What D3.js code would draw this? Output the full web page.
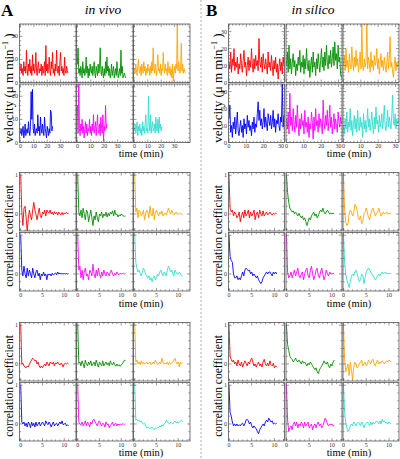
<!DOCTYPE html>
<html><head><meta charset="utf-8">
<script src="https://cdn.jsdelivr.net/npm/d3@7"></script>
<style>body{margin:0;background:#fff}svg{display:block}</style>
</head><body><svg id="c" width="400" height="459"></svg>
<script>
// ---------- DATA ----------
const seriesColors = ["#ff0000", "#009000", "#ffa500", "#0000ff", "#ff00ff", "#30dcd0"];
const sideTitles = {A: "in vivo", B: "in silico"};

// velocity (µm/min), in vivo, one sample every 0.5 min
const velA_red = [5,8,4,6,3,9,5,7,4,14, 6,3,8,5,10,4,7,3,12,5, 8,4,6,13,5,3,7,9,4,6, 5,8,3,7,4,6,9,3,16,5, 8,4,7,11,5,3,9,6,13,4, 6,3,8,5,14,6,4,7,3,9, 13,5,7,4,6,3,11,5,4,7, 5,4];
const velA_green = [8,15,4,6,3,7,5,2,9,4, 6,3,5,11,4,7,2,6,3,8, 5,4,7,3,6,9,4,2,7,5, 3,8,4,6,15,5,3,7,4,2, 6,3,9,4,11,5,7,3,6,2, 4,8,3,5,7,2,4,6,3,9, 5,2,4,6,3,14,4,7,2,3, 4,3,2];
const velA_orange = [6,4,8,5,3,7,10,5,4,7, 3,8,6,4,9,5,7,3,6,4, 8,5,6,3,7,4,9,5,15,6, 4,8,5,3,7,12,5,6,4,8, 3,6,5,13,7,4,8,5,6,3, 9,5,4,7,3,6,2,8,0.5,5, 7,4,8,6,27,5,9,6,4,7, 17,5,8,4,6,5,4];
const velA_blue = [4,6,3,5,7,2,4,8,3,5, 6,4,9,5,3,7,22,10,23,6, 4,8,3,5,6,4,12,5,7,3, 11,6,4,8,5,3,11,6,4,2, 7,5,3,6,4,14,13,5,7];
const velA_magenta = [16,4,28,6,3,8,5,10,4,7, 2,6,9,4,8,3,6,5,10,4, 7,3,8,5,12,4,6,9,3,7, 12,5,4,8,3,11,6,4,12,0.5, 7,5,16,6,8];
const velA_cyan = [5,8,4,6,9,3,7,5,8,4, 6,3,9,5,7,4,8,12,5,6, 4,20,8,5,12,4,7,9,5,6, 8,4,11,6,5,10,4,11,6,8, 5,7];

// velocity, in silico, one sample every 0.48 min
const velB_red = [12,8,18,6,14,10,20,7,12,9, 15,5,11,8,17,10,6,13,19,9, 12,4,10,15,7,13,9,20,11,6, 14,8,16,10,13,7,26,12,9,15, 6,17,11,8,14,10,5,18,9,12, 7,16,10,4,13,8,15,6,11,2, 9,14,7,12,5,15,10];
const velB_green = [10,18,6,22,8,14,5,12,17,9, 13,4,11,7,15,10,19,6,12,9, 16,5,14,8,20,11,7,13,3,10, 15,6,18,9,12,4,14,8,17,11, 6,13,20,9,15,7,18,10,22,12, 8,16,11,19,9,14,21,10,24,13, 17,8,22,12,15,5,3];
const velB_orange = [10,16,7,20,9,13,6,17,11,8, 21,12,7,15,9,19,10,14,6,12, 18,8,36,10,7,14,9,12,36,8, 15,11,6,18,9,13,7,16,10,12, 20,8,14,5,11,17,9,13,7,15, 10,6,12,18,8,14,27,9,12,6, 3,10,15,7,12,9,13];
const velB_blue = [14,22,6,10,3,12,8,15,5,11, 18,7,4,9,13,6,10,3,14,8, 11,5,16,9,13,7,10,4,12,8, 15,6,11,9,17,24,13,19,10,14, 8,12,20,9,15,11,7,17,13,10, 16,8,12,19,9,14,6,13,11,17, 10,7,15,12,35,9,16];
const velB_magenta = [14,8,18,5,29,10,15,7,20,12, 6,16,9,22,11,4,14,8,17,10, 13,5,19,9,12,6,15,3,11,8, 18,12,2,15,7,20,10,13,6,17, 9,14,11,5,25,12,8,16,10,19, 7,13,22,9,15,5,11,17,8,14, 10,6,18,12,9,15,11];
const velB_cyan = [10,5,14,8,18,6,12,9,20,7, 13,4,11,16,8,14,6,19,10,7, 15,9,12,3,17,8,13,6,11,20, 9,14,7,12,18,10,5,15,8,21, 11,13,6,16,9,12,17,8,14,22, 10,7,13,19,9,15,11,8,16,28, 12,10,17,8,14,11,13];

// correlation coefficient, first block, lag step 0.25 min
const corr1A_red = [1,0.05,-0.3,0.15,0.2,-0.1,-0.45,-0.1,0.1,-0.05,-0.15,0.1,0.3,0.1,0,-0.15,0,0.15,-0.05,-0.1,0.05,0,0.1,-0.05,0.1,0.05,0.02,0.1,0,0.05,-0.02,0.06,0,0.04,-0.03,0.05,0,-0.02,0.04,-0.02,0.03,0,0.04,0.01,0.02];
const corr1A_green = [1,0.05,-0.05,0.1,-0.1,0.15,0,-0.15,0.1,0.05,-0.2,-0.05,0.1,-0.1,-0.3,-0.05,-0.15,0.05,-0.1,-0.2,0,-0.05,0.05,-0.1,0,-0.05,0.05,-0.08,0.02,-0.05,0.05,0,0.08,-0.05,0.1,-0.02,0,-0.08,-0.02,-0.05,0,-0.03,-0.05,-0.06,-0.05];
const corr1A_orange = [1,0.05,0.15,-0.1,0.1,0.05,-0.05,0,0.1,-0.15,0,0.1,0.05,-0.1,0.2,0,-0.05,0.15,-0.15,0.05,0.1,0,-0.05,0.05,0,0.08,-0.05,0,0.02,-0.03,0.05,0.15,0.05,0,0.1,0.02,-0.02,0,0.05,0,0,0.02,0,0,0];
const corr1A_blue = [1,0.1,-0.05,0.2,0,-0.1,0.15,-0.05,0.1,0,-0.1,0.15,0,-0.1,0.05,0.1,-0.05,0.02,-0.15,0,-0.05,0.05,-0.05,0,-0.15,0,-0.03,0,-0.05,0.02,-0.03,0,0.03,-0.02,0.05,0,0.02,0,0.01,0,0.01,0,0.01,0,0.01];
const corr1A_magenta = [1,0.1,0.2,-0.1,0.1,-0.15,0.05,0.15,-0.05,0,-0.15,0.1,0.05,-0.05,0.25,0,-0.1,0.1,-0.05,0.15,0,-0.1,0.05,-0.05,0.1,0,-0.05,0.05,0,-0.05,0.05,0.1,0,-0.05,0.02,-0.03,0.05,0,-0.02,0.02,0,0.01,0.02,0,0.01];
const corr1A_cyan = [1,0.3,0.15,0.05,0.1,0,-0.05,0.05,0.15,0.1,0,-0.05,-0.1,-0.05,-0.15,-0.1,-0.2,-0.1,-0.05,-0.15,-0.1,0,-0.05,0.05,0.1,0,-0.05,0.05,0,-0.05,0.1,0.2,0.15,0.05,0.1,0,-0.05,0.1,0.05,0,0,0.05,0,-0.05,-0.05];

const corr1B_red = [1,0.15,0.05,0.1,-0.05,0.05,0,-0.1,-0.05,0.05,-0.2,-0.05,0.05,-0.1,0.1,-0.05,0,0.1,-0.1,0.05,-0.05,0,0.1,-0.15,0,0.05,-0.1,0.1,0,-0.05,0.08,-0.05,0,0.05,-0.02,0,0.05,0,-0.03,0.02,0,0.02,0];
const corr1B_green = [1,0.55,0.3,0.15,0.1,0.05,0.08,0,0.05,0,-0.05,0.02,-0.05,-0.1,-0.05,-0.15,-0.1,-0.2,-0.3,-0.2,-0.1,-0.15,-0.05,0,0.05,-0.05,0,-0.1,-0.05,0.05,0.1,0.05,0.15,0.05,0,0.05,0.1,0.05,0,0.02,0,0.02,0];
const corr1B_orange = [1,0.1,-0.2,-0.3,-0.25,0,0.1,0.05,-0.05,0,0.25,0.2,0.1,-0.1,-0.15,-0.05,-0.25,-0.2,0,0.05,0.15,0.05,-0.1,-0.15,0,0.1,0.15,0.05,-0.05,0,0.05,0.15,0.05,-0.05,0,0.05,0,0.02,0.05,0,0,0.02,0];
const corr1B_blue = [1,0.45,0.35,0.3,0,-0.1,-0.1,-0.05,-0.15,-0.1,-0.15,-0.05,0.05,-0.05,0.1,0.15,0.12,0.08,0.1,0,0.05,-0.05,0,-0.05,-0.1,-0.05,-0.15,-0.2,-0.25,-0.2,-0.1,-0.05,0,0.05,0,0.05,0.05,0,-0.05,0.05,0,0.05,0];
const corr1B_magenta = [1,0.05,-0.1,-0.05,0.05,-0.1,0,0.1,-0.05,0.05,0.15,-0.05,-0.1,0,0.05,-0.15,0,0.1,0.15,-0.05,-0.1,0.1,0.2,0,-0.15,-0.05,0.1,0.15,-0.05,-0.1,0.05,0.15,0,-0.15,-0.05,0.1,0,-0.05,0.05,0,0,0.02,0];
const corr1B_cyan = [1,0.3,0,-0.15,-0.25,-0.35,-0.2,-0.05,0,-0.05,0.05,0.1,0,-0.1,-0.2,-0.15,0,-0.05,-0.25,-0.1,0.05,0.1,0.15,0.1,0.05,0,-0.05,-0.1,-0.15,-0.1,-0.05,0,-0.05,0,0.05,0,0.02,0.05,0,0.02,0,0.02,0];

// correlation coefficient, second block
const corr2A_red = [1,0,0.02,-0.05,-0.08,-0.1,-0.05,-0.08,0,0.05,0.1,0.15,0.12,0.08,0.1,0,0.05,-0.05,-0.1,-0.05,-0.1,-0.05,0,-0.05,0.05,0,-0.05,0.05,0.02,0,0.05,-0.05,0.03,0,0.05,0,-0.03,0.02,0,-0.08,0,0.02,0,0.02,0];
const corr2A_green = [1,0.02,0.05,-0.05,0.08,0,-0.1,0.1,0,-0.05,0.05,-0.02,0.08,-0.05,0,0.05,-0.05,0.1,0,-0.08,0.05,0,-0.05,0.08,-0.05,0,0.05,-0.02,0.03,-0.05,0.08,0,-0.03,0.05,-0.02,-0.06,0,-0.05,-0.02,-0.06,-0.02,0,0.05,0.1,0.08];
const corr2A_orange = [1,0.05,0.1,0,0.05,-0.02,0.08,0,0.05,0,0.02,0.05,0,0.02,0.05,-0.02,0,0.05,0,0.1,0.05,-0.02,0,0.05,0,0.15,0.05,0,0.02,0,0.05,-0.02,0.05,0,0.02,0.05,0.1,0.15,0.05,0,0.05,-0.08,0.05,0,0.02];
const corr2A_blue = [1,0.05,0,0.05,-0.05,0.02,-0.08,0.05,0,-0.1,0.05,-0.05,0.02,-0.08,0.05,-0.05,0,0.05,-0.05,0,0.05,0,-0.05,0.08,0.02,-0.02,0.05,0,-0.08,0,0.05,-0.05,0,0.02,-0.05,0,0.05,0,0.08,-0.02,0,0.02,-0.05,-0.02,-0.05];
const corr2A_magenta = [1,0.05,0,-0.02,0.05,-0.05,0,0.08,-0.05,0.05,0,-0.08,0.05,0,0.1,0.12,0.05,0,-0.05,0.05,0.08,0,-0.05,0.02,0,-0.08,0.05,-0.02,0,-0.1,-0.05,0,0.05,-0.05,0,0.02,-0.05,0,-0.03,0,-0.02,0,0,-0.02,0];
const corr2A_cyan = [1,0.1,0.12,0.08,0.1,0.05,0.08,0.02,0,0.02,-0.05,-0.1,-0.08,-0.1,-0.12,-0.1,-0.08,-0.12,-0.15,-0.1,-0.12,-0.08,-0.1,-0.05,-0.08,-0.02,-0.05,0,0.02,0.1,0.05,0.02,0,0.05,0.02,0,0.05,0.08,0.03,0.05,0.02,0.05,0.08,0.1,0.05];

const corr2B_red = [1,0.2,0.12,0.05,0.1,0,0.05,-0.05,0.1,0,-0.05,0.05,-0.08,0,0.08,0.02,-0.05,0.05,0,0.1,0.15,0.05,-0.05,0,-0.08,0,0.05,-0.05,0,-0.08,0.05,0.12,0,-0.05,0.02,-0.05,0.08,-0.02,-0.05,0.02,-0.1,-0.05,-0.08];
const corr2B_green = [1,0.5,0.35,0.2,0.15,0.12,0.05,0.1,0.15,0.08,0.05,0.1,0.05,0,0.08,0.02,0.05,0,-0.05,0.02,-0.02,0.05,0,-0.05,-0.1,-0.15,-0.1,-0.2,-0.25,-0.15,-0.1,-0.05,0,0.08,0.02,0,0.05,-0.05,-0.1,0,-0.05,0.05,0.1];
const corr2B_orange = [1,0.15,-0.2,-0.1,0,-0.3,0.05,-0.15,-0.4,-0.1,0.05,0,-0.1,-0.05,0,0.05,0.1,-0.05,0,0.05,-0.05,0,0.1,0.05,0,0.1,0.12,0,-0.05,0.05,0.1,0,0.05,0.02,0.08,0.05,0,0.05,0.08,0.05,0.1,0.08,0.05];
const corr2B_blue = [1,0.3,0.2,0.05,-0.05,0,-0.05,0,-0.05,-0.02,-0.05,0,0.02,-0.05,0,0.1,0.12,0.08,0,0.05,-0.05,-0.1,-0.05,-0.1,-0.12,-0.2,-0.25,-0.15,-0.1,-0.05,0,-0.05,0.05,0.1,0.05,0.15,0.1,0.05,0.08,0,0.02,0,0.02];
const corr2B_magenta = [1,0.1,-0.2,-0.1,-0.05,-0.15,0,0.05,-0.05,0.05,-0.1,0,-0.05,0.05,0,-0.1,0.05,-0.05,0,0.05,-0.1,-0.05,0,-0.15,-0.05,0,-0.1,0,0.05,-0.05,0,-0.1,-0.05,0.05,0.15,0.1,0,-0.05,0,-0.02,0,-0.05,-0.05];
const corr2B_cyan = [1,0.3,0.05,-0.1,-0.2,-0.15,-0.05,0,-0.05,0.05,0,-0.05,0.02,0.05,0,-0.05,0.05,0,-0.1,-0.02,0.02,0.05,0,-0.05,0.05,-0.02,0.05,0,0.02,0.08,0.05,0,0.08,0,0.12,0.05,0.08,0.02,0.05,0,0.05,0.02,0];

// tick labels
const velA_xTicks = [0, 10, 20, 30];
const velA_yTicks = [0, 10, 20];
const velB_xTicks = [0, 10, 20, 30];
const velB_yTicks = [0, 10, 20, 30];
const corr_xTicks = [0, 5, 10];
const corr_yTicks = [0, 1];

// ---------- LAYOUT ----------
const FONT = "'Liberation Serif','Times New Roman',Times,serif";
const svg = d3.select("#c");
const colLeft = {A: [19.5, 76.5, 133.5], B: [228.5, 286, 343]};
const colW = {A: 56.5, B: 56};
const rowH = 58.5, rowStep = 60;

const sections = [
  {top: 24, A: {series: [velA_red, velA_green, velA_orange, velA_blue, velA_magenta, velA_cyan], dt: 0.5, xd: [-0.7, 41.5], yd: [0, 25.3], xt: velA_xTicks, xm: 2, yt: velA_yTicks, ym: 2},
            B: {series: [velB_red, velB_green, velB_orange, velB_blue, velB_magenta, velB_cyan], dt: 0.48, xd: [-0.3, 32], yd: [0, 34.5], xt: velB_xTicks, xm: 2, yt: velB_yTicks, ym: 2},
   ytitle: "vel", ytitleY: 88, xtitleBase: 157},
  {top: 172.5, A: {series: [corr1A_red, corr1A_green, corr1A_orange, corr1A_blue, corr1A_magenta, corr1A_cyan], dt: 0.25, xd: [-0.28, 12.7], yd: [-0.44, 1.07], xt: corr_xTicks, xm: 1, yt: corr_yTicks, ym: 0.2},
               B: {series: [corr1B_red, corr1B_green, corr1B_orange, corr1B_blue, corr1B_magenta, corr1B_cyan], dt: 0.25, xd: [-0.1, 12.2], yd: [-0.44, 1.07], xt: corr_xTicks, xm: 1, yt: corr_yTicks, ym: 0.2},
   ytitle: "corr", ytitleY: 236, xtitleBase: 307},
  {top: 322.5, A: {series: [corr2A_red, corr2A_green, corr2A_orange, corr2A_blue, corr2A_magenta, corr2A_cyan], dt: 0.25, xd: [-0.28, 12.7], yd: [-0.44, 1.07], xt: corr_xTicks, xm: 1, yt: corr_yTicks, ym: 0.2},
               B: {series: [corr2B_red, corr2B_green, corr2B_orange, corr2B_blue, corr2B_magenta, corr2B_cyan], dt: 0.25, xd: [-0.1, 12.2], yd: [-0.44, 1.07], xt: corr_xTicks, xm: 1, yt: corr_yTicks, ym: 0.2},
   ytitle: "corr", ytitleY: 386, xtitleBase: 456}
];

// separator
svg.append("line").attr("x1", 201).attr("x2", 201).attr("y1", 0).attr("y2", 459)
  .attr("stroke", "#aaa").attr("stroke-width", 1).attr("stroke-dasharray", "2,2");

// panel letters and titles
[["A", 1, 103], ["B", 206, 313]].forEach(([L, lx, tx]) => {
  svg.append("text").attr("x", lx).attr("y", 16).text(L)
    .style("font-family", FONT).style("font-weight", "bold").style("font-size", "17px");
  svg.append("text").attr("x", tx).attr("y", 14).attr("text-anchor", "middle").text(sideTitles[L])
    .style("font-family", FONT).style("font-style", "italic").style("font-size", "13.5px");
});

let clipId = 0;
function range(a, b, step) {
  const out = [];
  const s = Math.ceil((a - 1e-9) / step);
  for (let k = s; k * step <= b + 1e-9; k++) out.push(+(k * step).toFixed(6));
  return out;
}

sections.forEach(sec => {
  ["A", "B"].forEach(side => {
    const cfg = sec[side];
    const w = colW[side];
    cfg.series.forEach((vals, idx) => {
      const r = Math.floor(idx / 3), c = idx % 3;
      const x0 = colLeft[side][c], y0 = sec.top + r * rowStep;
      const xs = d3.scaleLinear().domain(cfg.xd).range([x0, x0 + w]);
      const ys = d3.scaleLinear().domain(cfg.yd).range([y0 + rowH, y0]);
      const g = svg.append("g");
      const id = "clip" + (clipId++);
      svg.append("clipPath").attr("id", id).append("rect")
        .attr("x", x0).attr("y", y0).attr("width", w).attr("height", rowH);
      const line = d3.line().x((d, i) => xs(i * cfg.dt)).y(d => ys(d));
      g.append("path").datum(vals).attr("d", line).attr("clip-path", `url(#${id})`)
        .attr("fill", "none").attr("stroke", seriesColors[idx]).attr("stroke-width", 0.9)
        .attr("stroke-linejoin", "round");
      // frame
      g.append("rect").attr("x", x0).attr("y", y0).attr("width", w).attr("height", rowH)
        .attr("fill", "none").attr("stroke", "#555").attr("stroke-width", 0.8);
      // ticks
      const tk = g.append("g").attr("stroke", "#555").attr("stroke-width", 0.6);
      const xMinor = range(cfg.xd[0], cfg.xd[1], cfg.xm);
      const yMinor = range(cfg.yd[0], cfg.yd[1], cfg.ym);
      xMinor.forEach(v => {
        const major = cfg.xt.some(t => Math.abs(t - v) < 1e-6);
        const L = major ? 3 : 1.6;
        const px = xs(v);
        tk.append("line").attr("x1", px).attr("x2", px).attr("y1", y0 + rowH).attr("y2", y0 + rowH - L);
        tk.append("line").attr("x1", px).attr("x2", px).attr("y1", y0).attr("y2", y0 + L);
      });
      yMinor.forEach(v => {
        const major = cfg.yt.some(t => Math.abs(t - v) < 1e-6);
        const L = major ? 3 : 1.6;
        const py = ys(v);
        tk.append("line").attr("x1", x0).attr("x2", x0 + L).attr("y1", py).attr("y2", py);
        tk.append("line").attr("x1", x0 + w).attr("x2", x0 + w - L).attr("y1", py).attr("y2", py);
      });
      // tick labels
      if (r === 1) {
        cfg.xt.forEach(t => {
          g.append("text").attr("x", xs(t)).attr("y", y0 + rowH + 5.5).attr("text-anchor", "middle")
            .text(t).style("font-family", FONT).style("font-size", "6px").attr("fill", "#333");
        });
      }
      if (c === 0) {
        cfg.yt.forEach(t => {
          g.append("text").attr("x", x0 - 1.5).attr("y", ys(t)).attr("dy", "0.35em").attr("text-anchor", "end")
            .text(t).style("font-family", FONT).style("font-size", "6px").attr("fill", "#333");
        });
      }
    });
    // x title
    const xc = side === "A" ? 141 : 349;
    svg.append("text").attr("x", xc).attr("y", sec.xtitleBase).attr("text-anchor", "middle")
      .text("time (min)").style("font-family", FONT).style("font-size", "10.5px");
    // y title
    const yx = side === "A" ? 12.5 : 221.5;
    const yt = svg.append("text").attr("transform", `translate(${yx},${sec.ytitleY}) rotate(-90)`)
      .attr("text-anchor", "middle").style("font-family", FONT);
    if (sec.ytitle === "vel") {
      yt.style("font-size", "13px");
      yt.append("tspan").text("velocity (μ m min");
      yt.append("tspan").attr("dy", -5).style("font-size", "8px").text("−1");
      yt.append("tspan").attr("dy", 5).text(" )");
    } else {
      yt.style("font-size", "11.5px").text("correlation coefficient");
    }
  });
});
</script>
</body></html>
